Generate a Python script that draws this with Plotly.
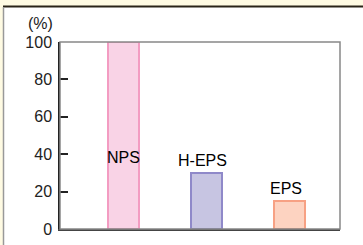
import plotly.graph_objects as go

categories = ["NPS", "H-EPS", "EPS"]
values = [100, 30, 15]
fill_colors = ["#f9d3e6", "#c7c5e2", "#fdd3c1"]
line_colors = ["#f39cc2", "#8f89c9", "#f7a184"]
y_ticks = [0, 20, 40, 60, 80, 100]
y_unit = "(%)"

W, H = 363, 245
L, R, T, B = 60, 23, 42, 16
pw, ph = W - L - R, H - T - B
FONT = "Liberation Sans, Arial, sans-serif"

def px(x):
    return (x - L) / pw

def py(y):
    return (H - B - y) / ph

fig = go.Figure()
fig.add_trace(go.Bar(
    x=list(range(len(categories))),
    y=values,
    width=0.38,
    marker=dict(color=fill_colors, line=dict(color=line_colors, width=2)),
    hoverinfo="skip",
))

fig.add_annotation(x=0, y=38, text=categories[0], showarrow=False,
                   font=dict(family=FONT, size=16, color="#000"))
for i in (1, 2):
    fig.add_annotation(x=i, y=values[i], text=categories[i], showarrow=False,
                       yanchor="bottom", yshift=2, xshift=-4,
                       font=dict(family=FONT, size=16, color="#000"))

fig.add_annotation(x=px(40), y=py(23), xref="paper", yref="paper", text=y_unit,
                   xanchor="center", yanchor="middle",
                   showarrow=False, font=dict(family=FONT, size=16, color="#222"))

shapes = [
    # white page area over the cream paper background
    dict(type="rect", xref="paper", yref="paper", x0=px(4), x1=px(W + 2), y0=py(H + 2), y1=py(7),
         fillcolor="white", line=dict(width=0), layer="below"),
    # dark rule under the cream top strip
    dict(type="line", xref="paper", yref="paper", x0=px(3), x1=px(W + 2), y0=py(6.5), y1=py(6.5),
         line=dict(color="#2a2418", width=2)),
    # grey rule on the left
    dict(type="line", xref="paper", yref="paper", x0=px(3.5), x1=px(3.5), y0=py(H + 2), y1=py(7),
         line=dict(color="#999", width=1.5)),
    # plot frame
    dict(type="rect", xref="paper", yref="paper", x0=0, x1=1, y0=0, y1=1,
         line=dict(color="#888", width=1.5)),
]

fig.update_layout(
    width=W, height=H,
    margin=dict(l=L, r=R, t=T, b=B),
    paper_bgcolor="#fffbe3", plot_bgcolor="white",
    showlegend=False,
    shapes=shapes,
    bargap=0,
    xaxis=dict(range=[-0.765, 2.608], showticklabels=False, ticks="", showgrid=False,
               zeroline=False, showline=True, linecolor="#444", linewidth=1.5, fixedrange=True,
               automargin=False),
    yaxis=dict(range=[0, 100], tickvals=y_ticks, ticks="inside", ticklen=8, tickcolor="#222",
               tickwidth=1.5, showgrid=False, zeroline=False, showline=True, linecolor="#222",
               linewidth=1.5, tickfont=dict(family=FONT, size=16, color="#222"),
               ticklabelstandoff=3, fixedrange=True, automargin=False),
)

fig.write_html("out.html", config={"displayModeBar": False},
               post_script="document.body.style.margin='0';")
